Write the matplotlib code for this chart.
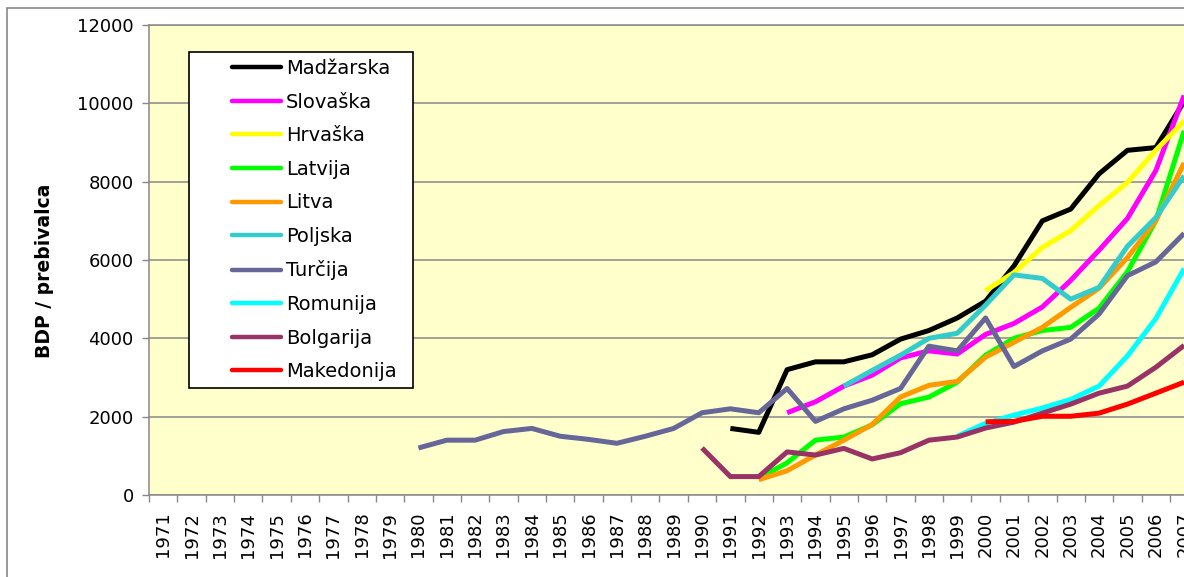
import numpy as np
import matplotlib.pyplot as plt
import matplotlib.patches as mpatches

# Data (GDP per capita)
years = list(range(1971, 2008))

madzarska_start = 1991
madzarska = [1700, 1600, 3200, 3400, 3400, 3580, 3980, 4200, 4520, 4950, 5850, 7000, 7300, 8200, 8800, 8870, 10050]
slovaska_start = 1993
slovaska = [2100, 2380, 2780, 3060, 3500, 3680, 3600, 4100, 4380, 4800, 5480, 6250, 7060, 8280, 10200]
hrvaska_start = 2000
hrvaska = [5220, 5680, 6320, 6750, 7390, 7980, 8800, 9550]
latvija_start = 1992
latvija = [430, 820, 1400, 1480, 1790, 2330, 2500, 2880, 3570, 4000, 4200, 4280, 4770, 5700, 7000, 9300]
litva_start = 1992
litva = [390, 620, 1020, 1400, 1800, 2500, 2800, 2900, 3520, 3900, 4280, 4790, 5280, 6060, 7000, 8480]
poljska_start = 1995
poljska = [2780, 3180, 3570, 4000, 4130, 4850, 5620, 5530, 5000, 5300, 6350, 7080, 8150]
turcija_start = 1980
turcija = [1200, 1400, 1400, 1620, 1700, 1500, 1420, 1320, 1500, 1700, 2100, 2200, 2100, 2720,
           1880, 2200, 2420, 2720, 3800, 3680, 4520, 3280, 3680, 3980, 4620, 5600, 5950, 6680]
romunija_start = 1999
romunija = [1500, 1830, 2040, 2220, 2440, 2780, 3550, 4500, 5780]
bolgarija_start = 1990
bolgarija = [1200, 470, 470, 1100, 1020, 1190, 920, 1080, 1400, 1480, 1710, 1860, 2090, 2320, 2600, 2780, 3260, 3820]
makedonija_start = 2000
makedonija = [1870, 1880, 2010, 2010, 2090, 2320, 2600, 2880]

series = [
    ("Madžarska", madzarska_start, madzarska, "#000000"),
    ("Slovaška", slovaska_start, slovaska, "#FF00FF"),
    ("Hrvaška", hrvaska_start, hrvaska, "#FFFF00"),
    ("Latvija", latvija_start, latvija, "#00FF00"),
    ("Litva", litva_start, litva, "#FF9900"),
    ("Poljska", poljska_start, poljska, "#33CCCC"),
    ("Turčija", turcija_start, turcija, "#666699"),
    ("Romunija", romunija_start, romunija, "#00FFFF"),
    ("Bolgarija", bolgarija_start, bolgarija, "#993366"),
    ("Makedonija", makedonija_start, makedonija, "#FF0000"),
]

W, H = 1184, 577
fig = plt.figure(figsize=(W / 100, H / 100), dpi=100)
fig.patch.set_facecolor("white")

# plot area in pixel coords
left_px, top_px, bottom_px = 149, 25, 495
step_px = 28.36
ax_w = 37 * step_px
ax = fig.add_axes([left_px / W, 1 - bottom_px / H, ax_w / W, (bottom_px - top_px) / H])
ax.set_facecolor("#FFFFCC")

for name, start, vals, col in series:
    x = [years.index(start) + i for i in range(len(vals))]
    ax.plot(x, vals, color=col, lw=3.6, label=name, solid_capstyle="butt", solid_joinstyle="round")

ax.set_xlim(-0.5, 36.5)
ax.set_ylim(0, 12000)
ax.set_yticks(range(0, 12001, 2000))
ax.yaxis.grid(True, color="#888888", lw=1.1)
ax.set_axisbelow(True)

ax.set_xticks(range(len(years)))
ax.set_xticklabels([str(y) for y in years], rotation=90, fontsize=13)
ax.set_xticks(np.arange(-0.5, 37, 1), minor=True)
ax.tick_params(axis="x", which="major", length=0, pad=12)
ax.tick_params(axis="x", which="minor", length=5, color="#888888", width=1)
ax.tick_params(axis="y", labelsize=13, length=5, color="#888888", width=1, pad=6)

for s in ["left", "bottom", "top"]:
    ax.spines[s].set_color("#888888")
    ax.spines[s].set_linewidth(1.1)
ax.spines["right"].set_visible(False)

fig.text(45 / W, 1 - 271 / H, "BDP / prebivalca", rotation=90, fontsize=13.5,
         fontweight="bold", ha="center", va="center")

# outer chart frame
fig.patches.append(mpatches.Rectangle((7 / W, -0.05), 1.2, 1 - 8 / H + 0.05, transform=fig.transFigure,
                                      fill=False, edgecolor="#888888", lw=1.2))

# legend box
ax.add_patch(mpatches.Rectangle((189 / W, 1 - 388 / H), (413 - 189) / W, (388 - 52) / H,
                                transform=fig.transFigure, facecolor="white", clip_on=False,
                                edgecolor="black", lw=1.2, zorder=5))
leg = ax.legend(loc="upper left", bbox_to_anchor=(232 / W, 1 - 59 / H), bbox_transform=fig.transFigure,
                frameon=False, fontsize=14, borderpad=0, borderaxespad=0, handlelength=2.5,
                handletextpad=0.26, labelspacing=0.75)
leg.set_zorder(6)
for h in leg.get_lines():
    h.set_linewidth(3.2)
    h.set_solid_capstyle("round")

fig.savefig("out.png", dpi=100)
